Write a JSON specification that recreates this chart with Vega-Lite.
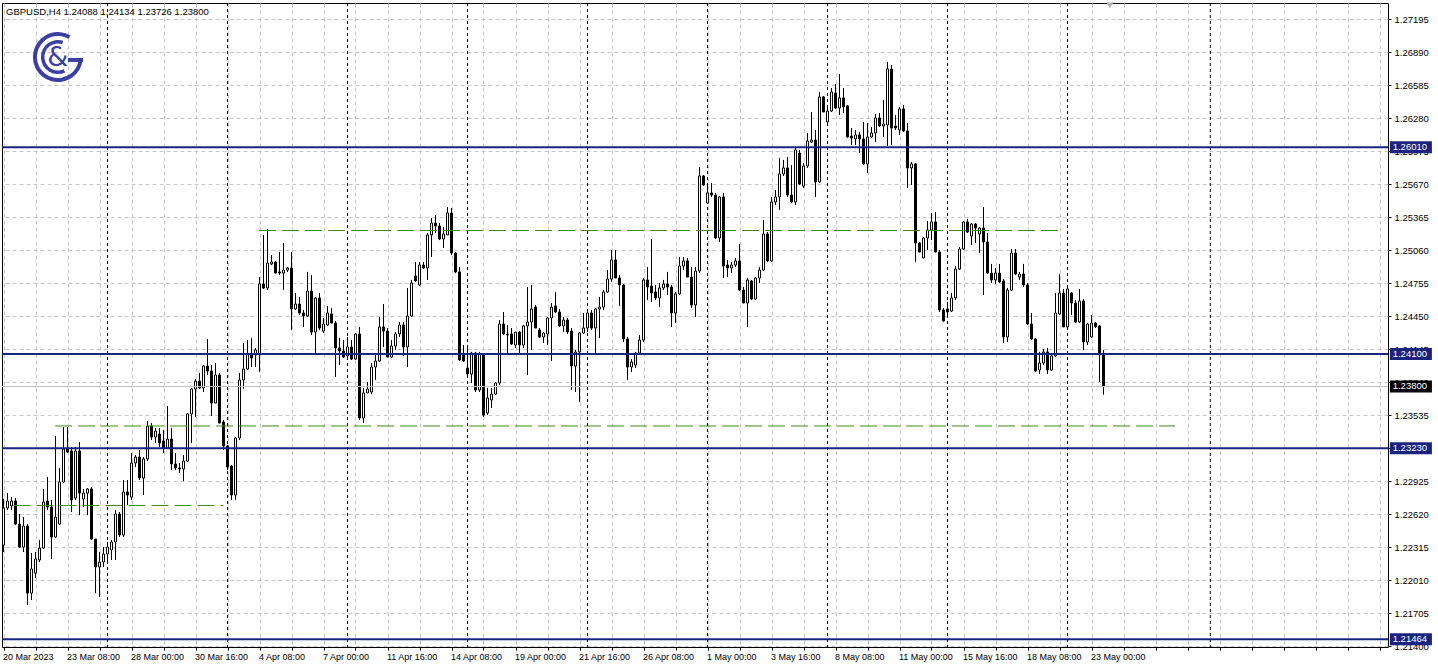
{
"$schema":"https://vega.github.io/schema/vega-lite/v6.json",
"width":1386,"height":644,
"autosize":{"type":"none"},
"padding":{"left":2,"top":3,"right":50,"bottom":24},
"background":"white",
"config":{"view":{"stroke":"#000","strokeWidth":1},"font":"Liberation Sans","scale":{"continuousPadding":0}},
"resolve":{"axis":{"x":"independent","y":"independent"}},
"datasets":{
"ohlc":[
{"i":0,"o":1.22335,"h":1.2276,"l":1.22271,"c":1.22677},
{"i":1,"o":1.22677,"h":1.22815,"l":1.22659,"c":1.22742},
{"i":2,"o":1.22696,"h":1.22778,"l":1.22659,"c":1.22742},
{"i":3,"o":1.22742,"h":1.22769,"l":1.2252,"c":1.22529},
{"i":4,"o":1.22529,"h":1.22622,"l":1.22307,"c":1.22316},
{"i":5,"o":1.22316,"h":1.22594,"l":1.22271,"c":1.22511},
{"i":6,"o":1.22511,"h":1.22529,"l":1.21781,"c":1.21891},
{"i":7,"o":1.21891,"h":1.22262,"l":1.21827,"c":1.22114},
{"i":8,"o":1.22076,"h":1.22271,"l":1.2203,"c":1.22206},
{"i":9,"o":1.22197,"h":1.22381,"l":1.22178,"c":1.22307},
{"i":10,"o":1.22307,"h":1.22853,"l":1.22298,"c":1.22733},
{"i":11,"o":1.22742,"h":1.22963,"l":1.22659,"c":1.22686},
{"i":12,"o":1.22686,"h":1.22751,"l":1.22206,"c":1.22409},
{"i":13,"o":1.22409,"h":1.23343,"l":1.224,"c":1.22594},
{"i":14,"o":1.22529,"h":1.23047,"l":1.2252,"c":1.22918},
{"i":15,"o":1.22918,"h":1.23425,"l":1.22908,"c":1.23222},
{"i":16,"o":1.23222,"h":1.23425,"l":1.23185,"c":1.23195},
{"i":17,"o":1.23204,"h":1.23241,"l":1.2264,"c":1.22751},
{"i":18,"o":1.22769,"h":1.23241,"l":1.22751,"c":1.23204},
{"i":19,"o":1.23204,"h":1.23287,"l":1.22612,"c":1.22815},
{"i":20,"o":1.2276,"h":1.22853,"l":1.22686,"c":1.22815},
{"i":21,"o":1.22815,"h":1.22862,"l":1.22612,"c":1.22853},
{"i":22,"o":1.22853,"h":1.22871,"l":1.22381,"c":1.2239},
{"i":23,"o":1.2239,"h":1.2239,"l":1.21891,"c":1.22132},
{"i":24,"o":1.22132,"h":1.22271,"l":1.21855,"c":1.22178},
{"i":25,"o":1.22178,"h":1.22316,"l":1.22132,"c":1.22252},
{"i":26,"o":1.22252,"h":1.22363,"l":1.22178,"c":1.22316},
{"i":27,"o":1.22289,"h":1.22381,"l":1.22197,"c":1.22363},
{"i":28,"o":1.22363,"h":1.22659,"l":1.22197,"c":1.22622},
{"i":29,"o":1.22622,"h":1.2264,"l":1.22409,"c":1.22428},
{"i":30,"o":1.22428,"h":1.22936,"l":1.22409,"c":1.22825},
{"i":31,"o":1.22825,"h":1.22936,"l":1.22705,"c":1.22797},
{"i":32,"o":1.22778,"h":1.23185,"l":1.22751,"c":1.23093},
{"i":33,"o":1.23093,"h":1.23167,"l":1.23056,"c":1.23148},
{"i":34,"o":1.23148,"h":1.23213,"l":1.22936,"c":1.22954},
{"i":35,"o":1.22954,"h":1.23148,"l":1.22797,"c":1.2313},
{"i":36,"o":1.2313,"h":1.23481,"l":1.23111,"c":1.23434},
{"i":37,"o":1.23434,"h":1.23462,"l":1.23305,"c":1.23333},
{"i":38,"o":1.23333,"h":1.23416,"l":1.23278,"c":1.23388},
{"i":39,"o":1.2336,"h":1.23416,"l":1.23241,"c":1.23278},
{"i":40,"o":1.23296,"h":1.23398,"l":1.23185,"c":1.23231},
{"i":41,"o":1.23231,"h":1.2362,"l":1.23231,"c":1.23314},
{"i":42,"o":1.23314,"h":1.23416,"l":1.23028,"c":1.23084},
{"i":43,"o":1.23084,"h":1.23185,"l":1.23028,"c":1.23047},
{"i":44,"o":1.23047,"h":1.23093,"l":1.23,"c":1.23037},
{"i":45,"o":1.23037,"h":1.23167,"l":1.22927,"c":1.23111},
{"i":46,"o":1.23111,"h":1.23555,"l":1.23102,"c":1.23546},
{"i":47,"o":1.23546,"h":1.23786,"l":1.23278,"c":1.23777},
{"i":48,"o":1.23777,"h":1.23869,"l":1.23518,"c":1.2385},
{"i":49,"o":1.2385,"h":1.23924,"l":1.23777,"c":1.23786},
{"i":50,"o":1.23786,"h":1.23998,"l":1.23749,"c":1.23989},
{"i":51,"o":1.23989,"h":1.24239,"l":1.23906,"c":1.23943},
{"i":52,"o":1.23943,"h":1.23998,"l":1.23527,"c":1.23647},
{"i":53,"o":1.23647,"h":1.24017,"l":1.23647,"c":1.23906},
{"i":54,"o":1.23906,"h":1.23924,"l":1.23462,"c":1.23462},
{"i":55,"o":1.23472,"h":1.2349,"l":1.23213,"c":1.2325},
{"i":56,"o":1.2325,"h":1.23259,"l":1.23028,"c":1.23056},
{"i":57,"o":1.23065,"h":1.23075,"l":1.22751,"c":1.22797},
{"i":58,"o":1.22797,"h":1.23333,"l":1.22751,"c":1.23324},
{"i":59,"o":1.23324,"h":1.23924,"l":1.23305,"c":1.2386},
{"i":60,"o":1.2386,"h":1.24202,"l":1.23777,"c":1.23961},
{"i":61,"o":1.23961,"h":1.24229,"l":1.23952,"c":1.241},
{"i":62,"o":1.241,"h":1.24248,"l":1.2398,"c":1.24063},
{"i":63,"o":1.24091,"h":1.24156,"l":1.2398,"c":1.24137},
{"i":64,"o":1.241,"h":1.24811,"l":1.23934,"c":1.24747},
{"i":65,"o":1.24747,"h":1.252,"l":1.24701,"c":1.2471},
{"i":66,"o":1.2471,"h":1.25255,"l":1.24691,"c":1.24941},
{"i":67,"o":1.24932,"h":1.25015,"l":1.24922,"c":1.2495},
{"i":68,"o":1.2495,"h":1.2496,"l":1.24848,"c":1.24848},
{"i":69,"o":1.24858,"h":1.25042,"l":1.2483,"c":1.24848},
{"i":70,"o":1.24848,"h":1.25126,"l":1.24691,"c":1.24876},
{"i":71,"o":1.24876,"h":1.24904,"l":1.24858,"c":1.24895},
{"i":72,"o":1.24895,"h":1.25042,"l":1.24322,"c":1.24516},
{"i":73,"o":1.24516,"h":1.24664,"l":1.24507,"c":1.24562},
{"i":74,"o":1.24562,"h":1.24627,"l":1.2446,"c":1.24479},
{"i":75,"o":1.24479,"h":1.24507,"l":1.2435,"c":1.24451},
{"i":76,"o":1.24451,"h":1.24858,"l":1.24442,"c":1.24682},
{"i":77,"o":1.24682,"h":1.2483,"l":1.24276,"c":1.24303},
{"i":78,"o":1.24303,"h":1.24627,"l":1.24109,"c":1.24618},
{"i":79,"o":1.24618,"h":1.24664,"l":1.24322,"c":1.2434},
{"i":80,"o":1.24312,"h":1.24433,"l":1.24294,"c":1.24377},
{"i":81,"o":1.24368,"h":1.24544,"l":1.24359,"c":1.24479},
{"i":82,"o":1.2447,"h":1.24525,"l":1.24386,"c":1.24386},
{"i":83,"o":1.24386,"h":1.24405,"l":1.23888,"c":1.24156},
{"i":84,"o":1.24156,"h":1.24248,"l":1.23998,"c":1.24128},
{"i":85,"o":1.24128,"h":1.24229,"l":1.24063,"c":1.24072},
{"i":86,"o":1.24082,"h":1.24257,"l":1.24045,"c":1.24165},
{"i":87,"o":1.24165,"h":1.24229,"l":1.24045,"c":1.24054},
{"i":88,"o":1.24054,"h":1.24294,"l":1.24045,"c":1.24285},
{"i":89,"o":1.24285,"h":1.2435,"l":1.2349,"c":1.23509},
{"i":90,"o":1.23509,"h":1.23786,"l":1.23462,"c":1.2374},
{"i":91,"o":1.2374,"h":1.23841,"l":1.2374,"c":1.23777},
{"i":92,"o":1.23749,"h":1.24017,"l":1.2373,"c":1.2398},
{"i":93,"o":1.2398,"h":1.24109,"l":1.2386,"c":1.24035},
{"i":94,"o":1.24035,"h":1.24442,"l":1.24026,"c":1.2435},
{"i":95,"o":1.2435,"h":1.24562,"l":1.24165,"c":1.24312},
{"i":96,"o":1.24312,"h":1.2434,"l":1.24072,"c":1.24072},
{"i":97,"o":1.24072,"h":1.24229,"l":1.24063,"c":1.24174},
{"i":98,"o":1.24174,"h":1.24303,"l":1.24137,"c":1.24285},
{"i":99,"o":1.24285,"h":1.24396,"l":1.24257,"c":1.24368},
{"i":100,"o":1.24368,"h":1.24396,"l":1.24082,"c":1.24165},
{"i":101,"o":1.24165,"h":1.2471,"l":1.2398,"c":1.24451},
{"i":102,"o":1.24451,"h":1.24784,"l":1.24442,"c":1.24756},
{"i":103,"o":1.24821,"h":1.2495,"l":1.24765,"c":1.24775},
{"i":104,"o":1.24738,"h":1.2495,"l":1.24728,"c":1.24922},
{"i":105,"o":1.24922,"h":1.2495,"l":1.24885,"c":1.24895},
{"i":106,"o":1.24895,"h":1.25218,"l":1.24784,"c":1.252},
{"i":107,"o":1.252,"h":1.25357,"l":1.24996,"c":1.2531},
{"i":108,"o":1.2531,"h":1.25384,"l":1.25218,"c":1.25283},
{"i":109,"o":1.25283,"h":1.2531,"l":1.25153,"c":1.25163},
{"i":110,"o":1.25163,"h":1.25274,"l":1.2508,"c":1.25209},
{"i":111,"o":1.252,"h":1.25458,"l":1.252,"c":1.25403},
{"i":112,"o":1.25403,"h":1.25449,"l":1.25015,"c":1.25033},
{"i":113,"o":1.25033,"h":1.25042,"l":1.24848,"c":1.24858},
{"i":114,"o":1.24858,"h":1.24904,"l":1.24035,"c":1.24045},
{"i":115,"o":1.241,"h":1.24183,"l":1.24026,"c":1.24035},
{"i":116,"o":1.23971,"h":1.24165,"l":1.23888,"c":1.23915},
{"i":117,"o":1.23915,"h":1.24119,"l":1.23832,"c":1.24109},
{"i":118,"o":1.24109,"h":1.24119,"l":1.23749,"c":1.23767},
{"i":119,"o":1.23767,"h":1.24119,"l":1.23749,"c":1.241},
{"i":120,"o":1.241,"h":1.24109,"l":1.23518,"c":1.23537},
{"i":121,"o":1.23555,"h":1.23786,"l":1.23537,"c":1.23694},
{"i":122,"o":1.23675,"h":1.23786,"l":1.23601,"c":1.2373},
{"i":123,"o":1.2373,"h":1.23841,"l":1.23721,"c":1.23832},
{"i":124,"o":1.23832,"h":1.24414,"l":1.23814,"c":1.24377},
{"i":125,"o":1.24377,"h":1.24488,"l":1.24276,"c":1.24285},
{"i":126,"o":1.24285,"h":1.24368,"l":1.24109,"c":1.24276},
{"i":127,"o":1.24285,"h":1.2434,"l":1.24183,"c":1.24193},
{"i":128,"o":1.24183,"h":1.24303,"l":1.24156,"c":1.24303},
{"i":129,"o":1.24303,"h":1.24312,"l":1.24091,"c":1.24183},
{"i":130,"o":1.24183,"h":1.24368,"l":1.24156,"c":1.24359},
{"i":131,"o":1.24359,"h":1.24719,"l":1.23906,"c":1.24396},
{"i":132,"o":1.24396,"h":1.24738,"l":1.24137,"c":1.24516},
{"i":133,"o":1.24534,"h":1.24553,"l":1.2434,"c":1.2434},
{"i":134,"o":1.24322,"h":1.2434,"l":1.24248,"c":1.24257},
{"i":135,"o":1.24257,"h":1.24303,"l":1.24202,"c":1.24294},
{"i":136,"o":1.24285,"h":1.24442,"l":1.24183,"c":1.24433},
{"i":137,"o":1.24433,"h":1.24571,"l":1.24035,"c":1.24534},
{"i":138,"o":1.24544,"h":1.24673,"l":1.24479,"c":1.24488},
{"i":139,"o":1.24488,"h":1.24516,"l":1.2435,"c":1.24359},
{"i":140,"o":1.24359,"h":1.24442,"l":1.24303,"c":1.24414},
{"i":141,"o":1.24414,"h":1.24433,"l":1.24285,"c":1.24303},
{"i":142,"o":1.24312,"h":1.2434,"l":1.23767,"c":1.23989},
{"i":143,"o":1.23989,"h":1.24137,"l":1.23749,"c":1.24118},
{"i":144,"o":1.24118,"h":1.24303,"l":1.23657,"c":1.24294},
{"i":145,"o":1.24294,"h":1.24479,"l":1.24285,"c":1.2434},
{"i":146,"o":1.2434,"h":1.24488,"l":1.24303,"c":1.24479},
{"i":147,"o":1.24479,"h":1.24507,"l":1.24322,"c":1.2434},
{"i":148,"o":1.2434,"h":1.24525,"l":1.24109,"c":1.24516},
{"i":149,"o":1.24516,"h":1.24627,"l":1.24248,"c":1.24534},
{"i":150,"o":1.24534,"h":1.24691,"l":1.24507,"c":1.24673},
{"i":151,"o":1.24673,"h":1.24876,"l":1.24664,"c":1.24793},
{"i":152,"o":1.24793,"h":1.25061,"l":1.24765,"c":1.24969},
{"i":153,"o":1.24969,"h":1.25061,"l":1.24802,"c":1.24802},
{"i":154,"o":1.24802,"h":1.2483,"l":1.24544,"c":1.24738},
{"i":155,"o":1.24738,"h":1.24747,"l":1.24211,"c":1.24239},
{"i":156,"o":1.24239,"h":1.24257,"l":1.2386,"c":1.2398},
{"i":157,"o":1.2398,"h":1.24054,"l":1.23934,"c":1.24026},
{"i":158,"o":1.23998,"h":1.24119,"l":1.23971,"c":1.24109},
{"i":159,"o":1.24109,"h":1.24276,"l":1.24091,"c":1.24229},
{"i":160,"o":1.24229,"h":1.24802,"l":1.24211,"c":1.24784},
{"i":161,"o":1.24784,"h":1.24904,"l":1.24599,"c":1.24719},
{"i":162,"o":1.24728,"h":1.25163,"l":1.24581,"c":1.24664},
{"i":163,"o":1.24673,"h":1.24738,"l":1.24599,"c":1.24618},
{"i":164,"o":1.24618,"h":1.24756,"l":1.24534,"c":1.2471},
{"i":165,"o":1.2471,"h":1.24784,"l":1.24691,"c":1.24747},
{"i":166,"o":1.24747,"h":1.24858,"l":1.24645,"c":1.24719},
{"i":167,"o":1.24719,"h":1.24738,"l":1.2435,"c":1.24479},
{"i":168,"o":1.24479,"h":1.24673,"l":1.24386,"c":1.24655},
{"i":169,"o":1.24655,"h":1.24996,"l":1.24645,"c":1.24913},
{"i":170,"o":1.24913,"h":1.24996,"l":1.24876,"c":1.2496},
{"i":171,"o":1.2496,"h":1.24987,"l":1.24811,"c":1.24811},
{"i":172,"o":1.24811,"h":1.24904,"l":1.24525,"c":1.24553},
{"i":173,"o":1.24553,"h":1.24904,"l":1.24442,"c":1.24867},
{"i":174,"o":1.24867,"h":1.25828,"l":1.24848,"c":1.25745},
{"i":175,"o":1.25745,"h":1.25754,"l":1.25652,"c":1.25662},
{"i":176,"o":1.25495,"h":1.2568,"l":1.25486,"c":1.25588},
{"i":177,"o":1.25588,"h":1.2568,"l":1.25551,"c":1.25569},
{"i":178,"o":1.25569,"h":1.25588,"l":1.25163,"c":1.25172},
{"i":179,"o":1.25172,"h":1.2556,"l":1.25135,"c":1.25551},
{"i":180,"o":1.25551,"h":1.25588,"l":1.24802,"c":1.24913},
{"i":181,"o":1.24922,"h":1.24969,"l":1.24811,"c":1.24895},
{"i":182,"o":1.24895,"h":1.2495,"l":1.24848,"c":1.24922},
{"i":183,"o":1.24922,"h":1.24987,"l":1.24904,"c":1.2496},
{"i":184,"o":1.2496,"h":1.25117,"l":1.24682,"c":1.24691},
{"i":185,"o":1.24691,"h":1.24719,"l":1.24571,"c":1.24571},
{"i":186,"o":1.24571,"h":1.24802,"l":1.2435,"c":1.24784},
{"i":187,"o":1.24775,"h":1.24784,"l":1.24599,"c":1.24608},
{"i":188,"o":1.24608,"h":1.24811,"l":1.24599,"c":1.24802},
{"i":189,"o":1.24802,"h":1.24904,"l":1.24756,"c":1.24876},
{"i":190,"o":1.24876,"h":1.25338,"l":1.24867,"c":1.25209},
{"i":191,"o":1.25209,"h":1.25227,"l":1.2495,"c":1.2496},
{"i":192,"o":1.2496,"h":1.25551,"l":1.2495,"c":1.25505},
{"i":193,"o":1.25505,"h":1.25615,"l":1.25477,"c":1.25551},
{"i":194,"o":1.25551,"h":1.25911,"l":1.25431,"c":1.25763},
{"i":195,"o":1.25763,"h":1.25893,"l":1.25745,"c":1.25819},
{"i":196,"o":1.25819,"h":1.2592,"l":1.25551,"c":1.25569},
{"i":197,"o":1.25569,"h":1.25846,"l":1.25495,"c":1.25505},
{"i":198,"o":1.25505,"h":1.26003,"l":1.25477,"c":1.25985},
{"i":199,"o":1.25957,"h":1.25985,"l":1.25662,"c":1.25671},
{"i":200,"o":1.25652,"h":1.25865,"l":1.25634,"c":1.25837},
{"i":201,"o":1.25837,"h":1.26142,"l":1.25819,"c":1.26068},
{"i":202,"o":1.26059,"h":1.26336,"l":1.2605,"c":1.26077},
{"i":203,"o":1.26077,"h":1.2617,"l":1.25551,"c":1.2569},
{"i":204,"o":1.2569,"h":1.26521,"l":1.2568,"c":1.26475},
{"i":205,"o":1.26475,"h":1.26484,"l":1.26336,"c":1.26336},
{"i":206,"o":1.26244,"h":1.26401,"l":1.26234,"c":1.26345},
{"i":207,"o":1.26345,"h":1.26558,"l":1.26336,"c":1.26521},
{"i":208,"o":1.26512,"h":1.26595,"l":1.26364,"c":1.26373},
{"i":209,"o":1.26373,"h":1.26687,"l":1.26308,"c":1.26466},
{"i":210,"o":1.26466,"h":1.26558,"l":1.26327,"c":1.26382},
{"i":211,"o":1.26392,"h":1.26401,"l":1.26096,"c":1.26105},
{"i":212,"o":1.26114,"h":1.26188,"l":1.26031,"c":1.26096},
{"i":213,"o":1.26087,"h":1.2617,"l":1.26031,"c":1.26124},
{"i":214,"o":1.26124,"h":1.26151,"l":1.25957,"c":1.26087},
{"i":215,"o":1.26087,"h":1.26244,"l":1.25846,"c":1.25856},
{"i":216,"o":1.25856,"h":1.26234,"l":1.25772,"c":1.26105},
{"i":217,"o":1.26105,"h":1.26197,"l":1.26096,"c":1.26142},
{"i":218,"o":1.26142,"h":1.26318,"l":1.26059,"c":1.26281},
{"i":219,"o":1.26281,"h":1.26327,"l":1.26197,"c":1.26207},
{"i":220,"o":1.26207,"h":1.26447,"l":1.26105,"c":1.26225},
{"i":221,"o":1.26216,"h":1.26798,"l":1.26022,"c":1.26733},
{"i":222,"o":1.26733,"h":1.2677,"l":1.26031,"c":1.26188},
{"i":223,"o":1.26207,"h":1.26308,"l":1.2617,"c":1.26188},
{"i":224,"o":1.2617,"h":1.26382,"l":1.26124,"c":1.26364},
{"i":225,"o":1.26364,"h":1.26401,"l":1.26151,"c":1.26161},
{"i":226,"o":1.26161,"h":1.26234,"l":1.25634,"c":1.25819},
{"i":227,"o":1.25819,"h":1.25874,"l":1.25662,"c":1.25856},
{"i":228,"o":1.25856,"h":1.25865,"l":1.2495,"c":1.25126},
{"i":229,"o":1.25126,"h":1.25135,"l":1.25042,"c":1.25042},
{"i":230,"o":1.24987,"h":1.25181,"l":1.24987,"c":1.25172},
{"i":231,"o":1.25172,"h":1.25329,"l":1.25061,"c":1.25246},
{"i":232,"o":1.25246,"h":1.25403,"l":1.25153,"c":1.2532},
{"i":233,"o":1.2532,"h":1.25412,"l":1.25042,"c":1.25042},
{"i":234,"o":1.25042,"h":1.25061,"l":1.24488,"c":1.24507},
{"i":235,"o":1.24507,"h":1.24525,"l":1.24396,"c":1.24405},
{"i":236,"o":1.24516,"h":1.24581,"l":1.24433,"c":1.24488},
{"i":237,"o":1.24497,"h":1.24664,"l":1.24488,"c":1.24618},
{"i":238,"o":1.24618,"h":1.24913,"l":1.24599,"c":1.24885},
{"i":239,"o":1.24885,"h":1.25089,"l":1.24876,"c":1.2507},
{"i":240,"o":1.2507,"h":1.25329,"l":1.25061,"c":1.2532},
{"i":241,"o":1.2532,"h":1.25348,"l":1.25218,"c":1.25227},
{"i":242,"o":1.2519,"h":1.2531,"l":1.25107,"c":1.25301},
{"i":243,"o":1.25301,"h":1.2531,"l":1.25126,"c":1.25264},
{"i":244,"o":1.25209,"h":1.25274,"l":1.25033,"c":1.25264},
{"i":245,"o":1.25264,"h":1.25458,"l":1.24645,"c":1.25135},
{"i":246,"o":1.25135,"h":1.25218,"l":1.24839,"c":1.24848},
{"i":247,"o":1.24848,"h":1.24932,"l":1.24756,"c":1.24784},
{"i":248,"o":1.24784,"h":1.24895,"l":1.24747,"c":1.24848},
{"i":249,"o":1.24848,"h":1.24932,"l":1.24756,"c":1.24765},
{"i":250,"o":1.24775,"h":1.24793,"l":1.24202,"c":1.24257},
{"i":251,"o":1.24257,"h":1.2471,"l":1.24211,"c":1.24691},
{"i":252,"o":1.24691,"h":1.2507,"l":1.24682,"c":1.25033},
{"i":253,"o":1.25033,"h":1.2507,"l":1.2483,"c":1.24839},
{"i":254,"o":1.24811,"h":1.24858,"l":1.24784,"c":1.24839},
{"i":255,"o":1.24839,"h":1.24932,"l":1.24719,"c":1.24738},
{"i":256,"o":1.24738,"h":1.24756,"l":1.24368,"c":1.24377},
{"i":257,"o":1.24377,"h":1.24479,"l":1.24229,"c":1.24239},
{"i":258,"o":1.24239,"h":1.24248,"l":1.23934,"c":1.23943},
{"i":259,"o":1.23952,"h":1.24119,"l":1.23915,"c":1.24017},
{"i":260,"o":1.24017,"h":1.24146,"l":1.23998,"c":1.24119},
{"i":261,"o":1.24119,"h":1.24156,"l":1.23915,"c":1.23952},
{"i":262,"o":1.23952,"h":1.24109,"l":1.23943,"c":1.24082},
{"i":263,"o":1.24082,"h":1.24664,"l":1.24072,"c":1.24479},
{"i":264,"o":1.2447,"h":1.24839,"l":1.2446,"c":1.24664},
{"i":265,"o":1.24664,"h":1.24701,"l":1.2435,"c":1.2435},
{"i":266,"o":1.2435,"h":1.2471,"l":1.24322,"c":1.24701},
{"i":267,"o":1.24664,"h":1.24673,"l":1.2446,"c":1.24571},
{"i":268,"o":1.24571,"h":1.24599,"l":1.24386,"c":1.24396},
{"i":269,"o":1.24396,"h":1.24701,"l":1.24386,"c":1.2459},
{"i":270,"o":1.2459,"h":1.24608,"l":1.24137,"c":1.24211},
{"i":271,"o":1.24211,"h":1.24386,"l":1.24183,"c":1.24377},
{"i":272,"o":1.24257,"h":1.2446,"l":1.24248,"c":1.24386},
{"i":273,"o":1.24386,"h":1.24396,"l":1.2434,"c":1.2435},
{"i":274,"o":1.24359,"h":1.24368,"l":1.23841,"c":1.24091},
{"i":275,"o":1.24088,"h":1.24134,"l":1.23726,"c":1.238}
],
"levels":[{"p":1.2601},{"p":1.241},{"p":1.2323},{"p":1.21464}],
"bid":[{"p":1.238}],
"green":[{"i1":2.5,"i2":55,"p":1.227},{"i1":12.9,"i2":292.9,"p":1.23435},{"i1":63.9,"i2":263.6,"p":1.25241}],
"sep":[{"i":26},{"i":56},{"i":86},{"i":116},{"i":146},{"i":176},{"i":206},{"i":236},{"i":266},{"i":301.7}]
},
"layer":[
{"data":{"name":"ohlc"},"mark":{"type":"rule","color":"#000","strokeWidth":1},
 "encoding":{
  "x":{"field":"i","type":"quantitative","scale":{"domain":[-0.375,346.125],"nice":false,"zero":false,"padding":0},
   "axis":{"title":null,"domain":false,"grid":true,"gridColor":"#c8c8c8","gridDash":[4,3],
    "values":[0,8,16,24,32,40,48,56,64,72,80,88,96,104,112,120,128,136,144,152,160,168,176,184,192,200,208,216,224,232,240,248,256,264,272,280,288,296,304,312,320,328,336,344],
    "labelExpr":"datum.value % 16 == 0 && datum.value <= 272 ? ['20 Mar 2023','23 Mar 08:00','28 Mar 00:00','30 Mar 16:00','4 Apr 08:00','7 Apr 00:00','11 Apr 16:00','14 Apr 08:00','19 Apr 00:00','21 Apr 16:00','26 Apr 08:00','1 May 00:00','3 May 16:00','8 May 08:00','11 May 00:00','15 May 16:00','18 May 08:00','23 May 00:00'][datum.value / 16] : ''",
    "labelAlign":"left","labelOffset":-1,"labelPadding":2,"labelBaseline":"top","labelFont":"Liberation Sans","labelFontSize":9,"labelColor":"#000",
    "labelOverlap":false,"labelBound":false,"labelFlush":false,
    "tickColor":"#000","tickSize":3}},
  "y":{"field":"l","type":"quantitative","scale":{"domain":[1.21393,1.27343],"nice":false,"zero":false,"padding":0},
   "axis":{"title":null,"orient":"right","domain":false,"grid":true,"gridColor":"#c8c8c8","gridDash":[4,3],
    "values":[1.27195,1.2689,1.26585,1.2628,1.25975,1.2567,1.25365,1.2506,1.24755,1.2445,1.24145,1.2384,1.23535,1.2323,1.22925,1.2262,1.22315,1.2201,1.21705,1.214],
    "labelExpr":"format(datum.value,'.5f')",
    "labelFont":"Liberation Sans","labelFontSize":9.5,"labelBaseline":"middle","labelAlign":"left","labelColor":"#000","labelPadding":3,
    "labelOverlap":false,"labelBound":false,"labelFlush":false,
    "tickSize":3,"tickColor":"#000","tickWidth":1}},
  "y2":{"field":"h"}}},
{"data":{"name":"sep"},"mark":{"type":"rule","color":"#000","strokeWidth":1,"strokeDash":[3,3]},
 "encoding":{"x":{"field":"i","type":"quantitative","scale":{"domain":[-0.375,346.125],"nice":false,"zero":false,"padding":0},"axis":null}}},
{"data":{"name":"ohlc"},"mark":{"type":"rule","color":"#000","strokeWidth":1},
 "encoding":{
  "x":{"field":"i","type":"quantitative","scale":{"domain":[-0.375,346.125],"nice":false,"zero":false,"padding":0},"axis":null},
  "y":{"field":"l","type":"quantitative","scale":{"domain":[1.21393,1.27343],"nice":false,"zero":false,"padding":0},"axis":null},
  "y2":{"field":"h"}}},
{"data":{"name":"ohlc"},"mark":{"type":"bar","width":2,"stroke":"#000","strokeWidth":1},
 "encoding":{
  "x":{"field":"i","type":"quantitative","scale":{"domain":[-0.375,346.125],"nice":false,"zero":false,"padding":0},"axis":null},
  "y":{"field":"o","type":"quantitative","scale":{"domain":[1.21393,1.27343],"nice":false,"zero":false,"padding":0},"axis":null},
  "y2":{"field":"c"},
  "fill":{"condition":{"test":"datum.c < datum.o","value":"#000000"},"value":"#ffffff"}}},
{"data":{"name":"bid"},"mark":{"type":"rule","color":"#c0c0c0","strokeWidth":1},
 "encoding":{"y":{"field":"p","type":"quantitative","scale":{"domain":[1.21393,1.27343],"nice":false,"zero":false,"padding":0},"axis":null}}},
{"data":{"name":"levels"},"mark":{"type":"rule","color":"#1a237e","strokeWidth":2},
 "encoding":{"y":{"field":"p","type":"quantitative","scale":{"domain":[1.21393,1.27343],"nice":false,"zero":false,"padding":0},"axis":null}}},
{"data":{"name":"green"},"mark":{"type":"rule","color":"#3b8e0f","strokeWidth":1,"strokeDash":[17,6]},
 "encoding":{
  "x":{"field":"i1","type":"quantitative","scale":{"domain":[-0.375,346.125],"nice":false,"zero":false,"padding":0},"axis":null},
  "x2":{"field":"i2"},
  "y":{"field":"p","type":"quantitative","scale":{"domain":[1.21393,1.27343],"nice":false,"zero":false,"padding":0},"axis":null}}},
{"data":{"name":"levels"},"mark":{"type":"rule","color":"#1a237e","strokeWidth":12},
 "encoding":{
  "x":{"datum":346.6,"type":"quantitative","scale":{"domain":[-0.375,346.125],"nice":false,"zero":false,"padding":0},"axis":null},
  "x2":{"datum":357.1},
  "y":{"field":"p","type":"quantitative","scale":{"domain":[1.21393,1.27343],"nice":false,"zero":false,"padding":0},"axis":null}}},
{"data":{"name":"bid"},"mark":{"type":"rule","color":"#000000","strokeWidth":12},
 "encoding":{
  "x":{"datum":346.6,"type":"quantitative","scale":{"domain":[-0.375,346.125],"nice":false,"zero":false,"padding":0},"axis":null},
  "x2":{"datum":357.1},
  "y":{"field":"p","type":"quantitative","scale":{"domain":[1.21393,1.27343],"nice":false,"zero":false,"padding":0},"axis":null}}},
{"data":{"name":"levels"},"mark":{"type":"text","color":"#ffffff","align":"left","baseline":"middle","font":"Liberation Sans","fontSize":9.5},
 "encoding":{
  "x":{"datum":347.3,"type":"quantitative","scale":{"domain":[-0.375,346.125],"nice":false,"zero":false,"padding":0},"axis":null},
  "y":{"field":"p","type":"quantitative","scale":{"domain":[1.21393,1.27343],"nice":false,"zero":false,"padding":0},"axis":null},
  "text":{"field":"p","type":"quantitative","format":".5f"}}},
{"data":{"name":"bid"},"mark":{"type":"text","color":"#ffffff","align":"left","baseline":"middle","font":"Liberation Sans","fontSize":9.5},
 "encoding":{
  "x":{"datum":347.3,"type":"quantitative","scale":{"domain":[-0.375,346.125],"nice":false,"zero":false,"padding":0},"axis":null},
  "y":{"field":"p","type":"quantitative","scale":{"domain":[1.21393,1.27343],"nice":false,"zero":false,"padding":0},"axis":null},
  "text":{"field":"p","type":"quantitative","format":".5f"}}},
{"data":{"values":[{}]},"mark":{"type":"text","text":"GBPUSD,H4  1.24088 1.24134 1.23726 1.23800","align":"left","baseline":"middle","font":"Liberation Sans","fontSize":9.5,"color":"#000"},
 "encoding":{
  "x":{"datum":0.63,"type":"quantitative","scale":{"domain":[-0.375,346.125],"nice":false,"zero":false,"padding":0},"axis":null},
  "y":{"datum":1.2726,"type":"quantitative","scale":{"domain":[1.21393,1.27343],"nice":false,"zero":false,"padding":0},"axis":null}}},
{"data":{"values":[{}]},"mark":{"type":"arc","radius":25,"radius2":21,"theta":1.69,"theta2":6.81,"color":"#3c40a0"},
 "encoding":{
  "x":{"datum":13.6,"type":"quantitative","scale":{"domain":[-0.375,346.125],"nice":false,"zero":false,"padding":0},"axis":null},
  "y":{"datum":1.26844,"type":"quantitative","scale":{"domain":[1.21393,1.27343],"nice":false,"zero":false,"padding":0},"axis":null}}},
{"data":{"values":[{}]},"mark":{"type":"arc","radius":17,"radius2":13.5,"theta":2.7,"theta2":6.6,"color":"#3c40a0"},
 "encoding":{
  "x":{"datum":13.6,"type":"quantitative","scale":{"domain":[-0.375,346.125],"nice":false,"zero":false,"padding":0},"axis":null},
  "y":{"datum":1.26844,"type":"quantitative","scale":{"domain":[1.21393,1.27343],"nice":false,"zero":false,"padding":0},"axis":null}}},
{"data":{"values":[{}]},"mark":{"type":"rule","color":"#3c40a0","strokeWidth":4},
 "encoding":{
  "x":{"datum":16.1,"type":"quantitative","scale":{"domain":[-0.375,346.125],"nice":false,"zero":false,"padding":0},"axis":null},
  "x2":{"datum":19.9},
  "y":{"datum":1.26817,"type":"quantitative","scale":{"domain":[1.21393,1.27343],"nice":false,"zero":false,"padding":0},"axis":null}}},
{"data":{"values":[{}]},"mark":{"type":"text","text":"&","align":"center","baseline":"middle","font":"DejaVu Sans","fontSize":27,"color":"#3c40a0"},
 "encoding":{
  "x":{"datum":13.6,"type":"quantitative","scale":{"domain":[-0.375,346.125],"nice":false,"zero":false,"padding":0},"axis":null},
  "y":{"datum":1.26835,"type":"quantitative","scale":{"domain":[1.21393,1.27343],"nice":false,"zero":false,"padding":0},"axis":null}}},
{"data":{"values":[{}]},"mark":{"type":"point","shape":"triangle-down","filled":true,"size":45,"color":"#b4b4b4","opacity":1},
 "encoding":{
  "x":{"datum":276.6,"type":"quantitative","scale":{"domain":[-0.375,346.125],"nice":false,"zero":false,"padding":0},"axis":null},
  "y":{"datum":1.2732,"type":"quantitative","scale":{"domain":[1.21393,1.27343],"nice":false,"zero":false,"padding":0},"axis":null}}}
]
}
